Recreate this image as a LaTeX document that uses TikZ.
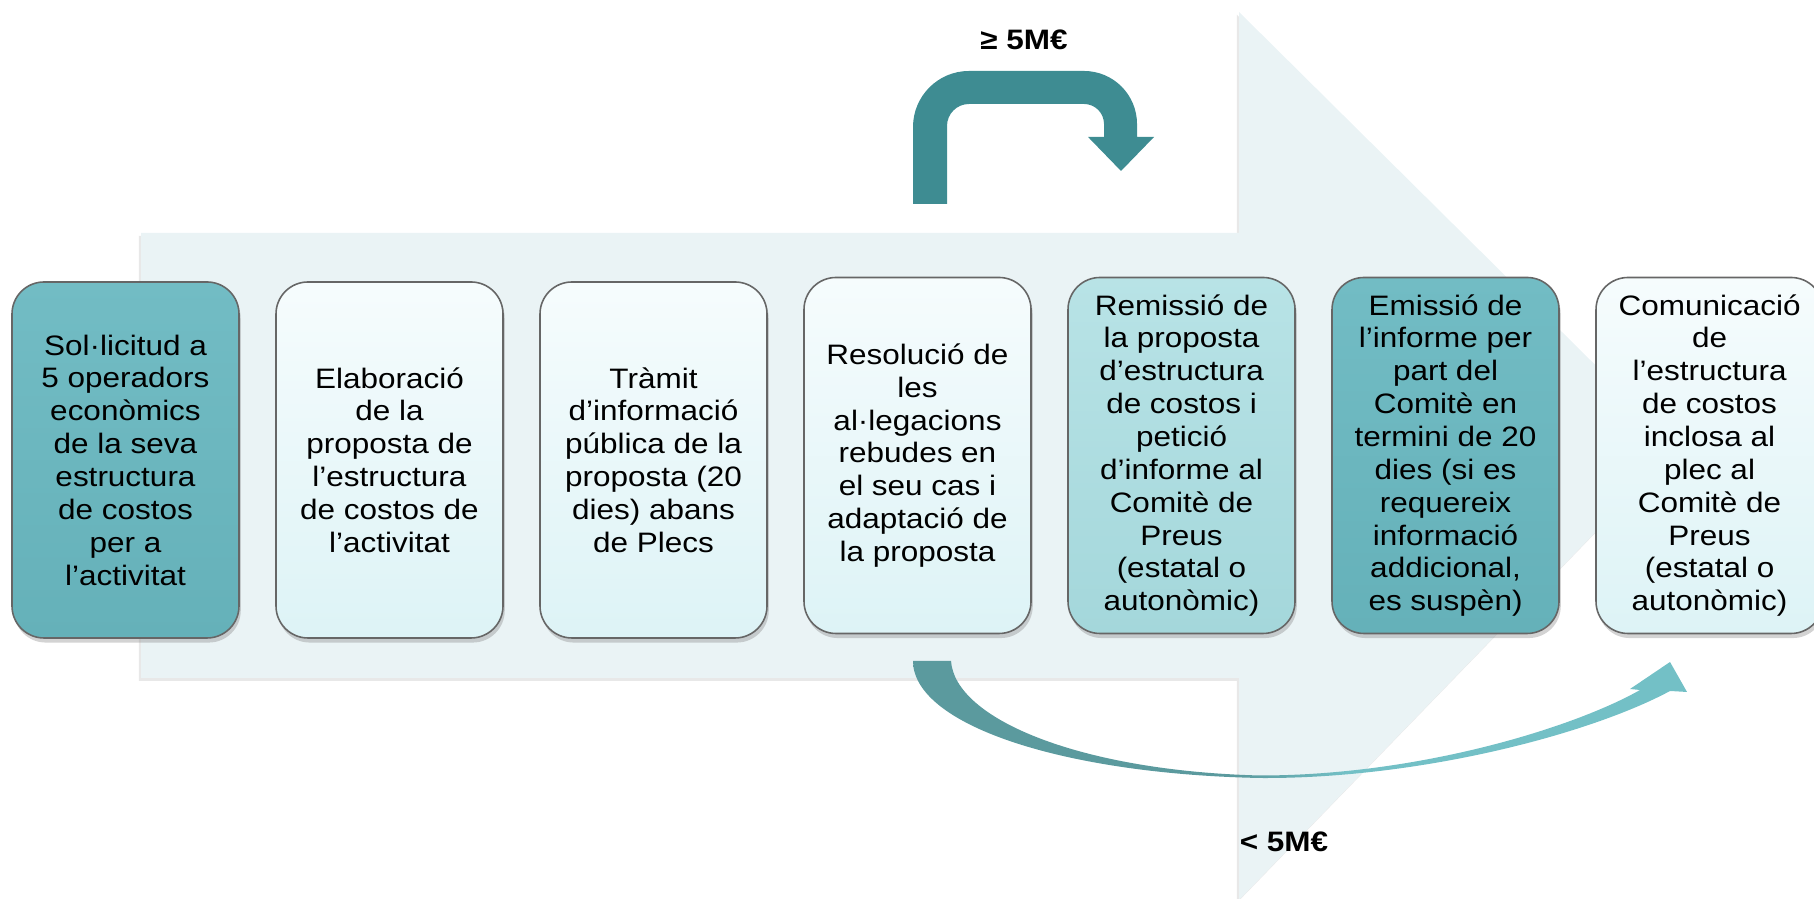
\documentclass[tikz,border=0pt]{standalone}
\usepackage{fontspec}
\setmainfont{Liberation Sans}[FakeStretch=1.12]
\usetikzlibrary{shadows}

\definecolor{fonsfletxa}{HTML}{EAF3F5}
\definecolor{fletxafosca}{HTML}{3E8C92}
\definecolor{corbaesq}{HTML}{5B9A9E}
\definecolor{corbadreta}{HTML}{73C0C6}
\definecolor{tealalt}{HTML}{72BCC4}
\definecolor{tealbaix}{HTML}{65B1B9}
\definecolor{claralt}{HTML}{F6FCFD}
\definecolor{clarbaix}{HTML}{DDF3F6}
\definecolor{mitjaalt}{HTML}{B8E3E6}
\definecolor{mitjabaix}{HTML}{A4D7DB}

% degradat de la fletxa inferior
\pgfdeclarehorizontalshading{corbadegradat}{100bp}{color(0bp)=(corbaesq); color(46bp)=(corbaesq);
    color(53bp)=(corbadreta); color(100bp)=(corbadreta)}

\tikzset{
    pas/.style={draw=black!60, line width=0.45pt, rounded corners=0.32cm,
        minimum width=2.27cm, minimum height=3.56cm, align=center,
        font=\fontsize{8}{9.35}\selectfont,
        drop shadow={shadow xshift=0.5pt, shadow yshift=-1.3pt, opacity=0.35}},
    pasteal/.style={pas, top color=tealalt, bottom color=tealbaix},
    pasclar/.style={pas, top color=claralt, bottom color=clarbaix},
    pasmitja/.style={pas, top color=mitjaalt, bottom color=mitjabaix},
    etiqueta/.style={font=\fontsize{8}{9.35}\selectfont\bfseries}
}

\begin{document}
\begin{tikzpicture}
        \useasboundingbox (0,0) rectangle (18.14,8.99);

        % Fletxa gran de fons
        \fill[fonsfletxa, drop shadow={shadow xshift=-0.6pt, shadow yshift=-0.8pt, opacity=0.18}]
            (1.41,6.66) -- (12.39,6.66) -- (12.39,8.87) -- (16.78,4.52)
            -- (12.39,-0.01) -- (12.39,2.21) -- (1.41,2.21) -- cycle;

        % Fletxa superior (>= 5M€)
        \fill[fletxafosca] (9.13,6.95) -- (9.13,7.72) arc (180:90:0.56)
            -- (10.84,8.28) arc (90:0:0.53) -- (11.37,7.62) -- (11.54,7.62)
            -- (11.21,7.28) -- (10.88,7.62) -- (11.04,7.62) -- (11.04,7.75)
            arc (0:90:0.20) -- (9.69,7.95) arc (90:180:0.22) -- (9.47,6.95) -- cycle;

        % Fletxa inferior (< 5M€)
        \shade[shading=corbadegradat]
            (9.13,2.38) .. controls (9.13,1.75) and (10.6,1.25) .. (12.6,1.21)
            .. controls (14.2,1.2) and (15.9,1.65) .. (16.70,2.08)
            -- (16.87,2.07) -- (16.70,2.37) -- (16.30,2.10) -- (16.40,2.09)
            .. controls (15.75,1.72) and (14.2,1.235) .. (12.6,1.235)
            .. controls (10.8,1.28) and (9.55,1.8) .. (9.51,2.38) -- cycle;

        % Passos del procediment
        \node[pasteal] (sollicitud) at (1.255,4.39) {Sol·licitud a\\5 operadors\\econòmics\\de la seva\\estructura\\de costos\\per a\\l’activitat};
        \node[pasclar] (elaboracio) at (3.895,4.39) {Elaboració\\de la\\proposta de\\l’estructura\\de costos de\\l’activitat};
        \node[pasclar] (tramit) at (6.535,4.39) {Tràmit\\d’informació\\pública de la\\proposta (20\\dies) abans\\de Plecs};
        \node[pasclar] (resolucio) at (9.175,4.435) {Resolució de\\les\\al·legacions\\rebudes en\\el seu cas i\\adaptació de\\la proposta};
        \node[pasmitja] (remissio) at (11.815,4.435) {Remissió de\\la proposta\\d’estructura\\de costos i\\petició\\d’informe al\\Comitè de\\Preus\\(estatal o\\autonòmic)};
        \node[pasteal] (emissio) at (14.455,4.435) {Emissió de\\l’informe per\\part del\\Comitè en\\termini de 20\\dies (si es\\requereix\\informació\\addicional,\\es suspèn)};
        \node[pasclar] (comunicacio) at (17.095,4.435) {Comunicació\\de\\l’estructura\\de costos\\inclosa al\\plec al\\Comitè de\\Preus\\(estatal o\\autonòmic)};

        % Etiquetes dels imports
        \node[etiqueta] (major) at (10.24,8.59) {≥ 5M€};
        \node[etiqueta] (menor) at (12.84,0.57) {< 5M€};
    \end{tikzpicture}
\end{document}
